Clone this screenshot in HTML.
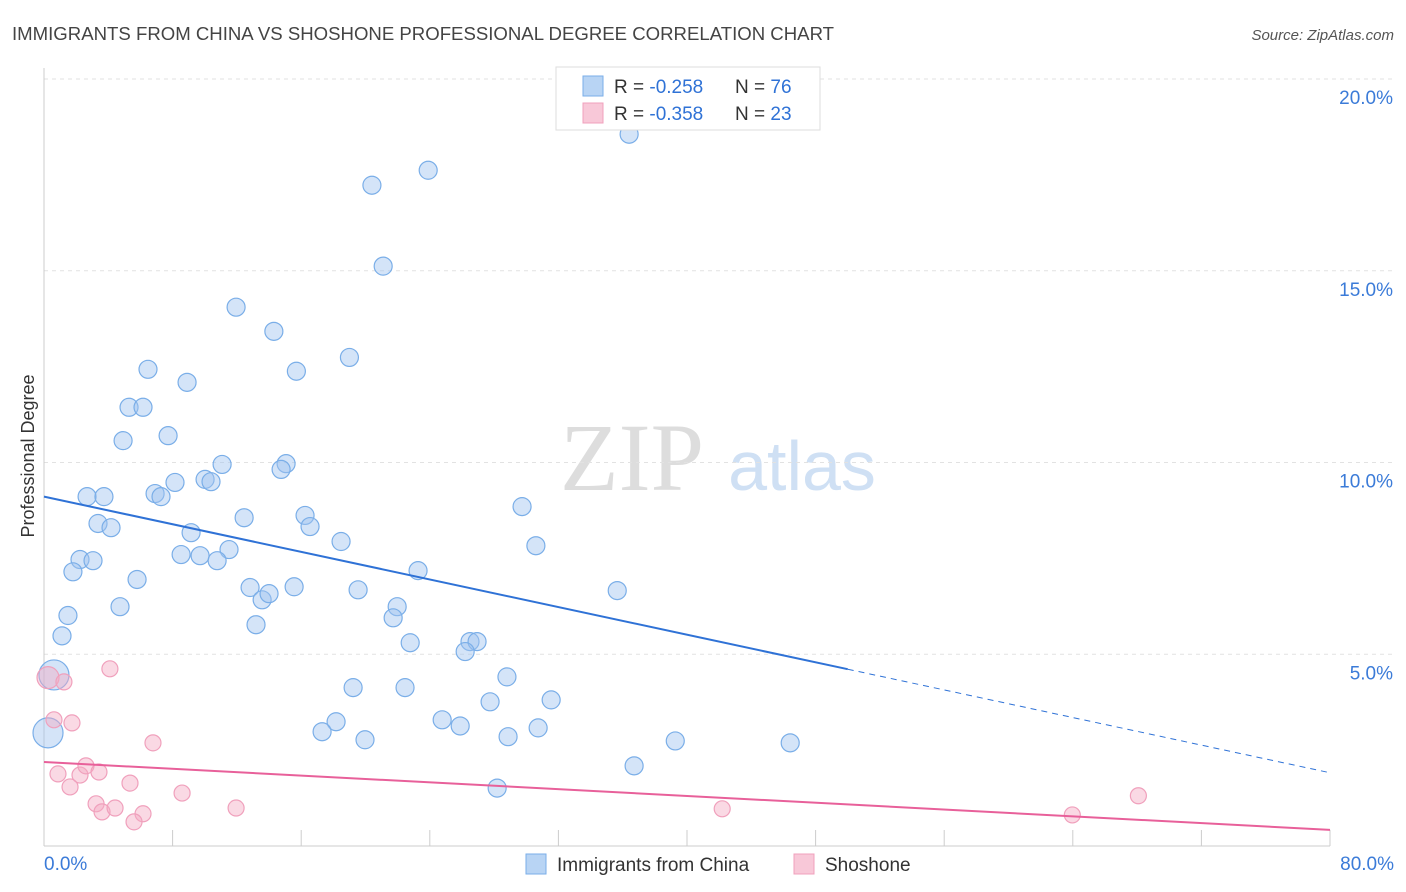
<!DOCTYPE html>
<html><head><meta charset="utf-8">
<style>
body{margin:0;background:#fff;font-family:"Liberation Sans",sans-serif;}
#wrap{position:relative;width:1406px;height:892px;overflow:hidden;}
</style></head>
<body>
<div id="wrap">
<svg id="svg" width="1406" height="892" xmlns="http://www.w3.org/2000/svg">
  <text x="12" y="40" font-size="18.6" fill="#444">IMMIGRANTS FROM CHINA VS SHOSHONE PROFESSIONAL DEGREE CORRELATION CHART</text>
  <text x="1394" y="40" font-size="15" fill="#555" text-anchor="end" font-style="italic">Source: ZipAtlas.com</text>
  <text x="34" y="456" font-size="18" fill="#333" text-anchor="middle" transform="rotate(-90 34 456)">Professional Degree</text>
  <g>
    <text x="632" y="490" font-size="96" fill="#ddd" text-anchor="middle" font-family="Liberation Serif, serif">ZIP</text>
    <text x="802" y="490" font-size="70" fill="#cfe0f4" text-anchor="middle">atlas</text>
  </g>
  <g id="grid"></g>
  <g id="axes"></g>
  <g id="pts"></g>
  <g id="lines"></g>
  <g>
    <rect x="556" y="67" width="264" height="63" fill="#fff" stroke="#ddd"/>
    <rect x="583" y="76" width="20" height="20" fill="#b8d4f4" stroke="#7aaee8"/>
    <text x="614" y="93" font-size="19" fill="#333">R = <tspan fill="#2f72d6">-0.258</tspan></text>
    <text x="735" y="93" font-size="19" fill="#333">N = <tspan fill="#2f72d6">76</tspan></text>
    <rect x="583" y="103" width="20" height="20" fill="#f8c8d8" stroke="#f0a0bc"/>
    <text x="614" y="120" font-size="19" fill="#333">R = <tspan fill="#2f72d6">-0.358</tspan></text>
    <text x="735" y="120" font-size="19" fill="#333">N = <tspan fill="#2f72d6">23</tspan></text>
  </g>
  <g>
    <rect x="526" y="854" width="20" height="20" fill="#b8d4f4" stroke="#7aaee8"/>
    <text x="557" y="871" font-size="19" fill="#333">Immigrants from China</text>
    <rect x="794" y="854" width="20" height="20" fill="#f8c8d8" stroke="#f0a0bc"/>
    <text x="825" y="871" font-size="19" fill="#333">Shoshone</text>
  </g>
</svg>
</div>
<script>
const yTicks=[5,10,15,20];
const yTickLabels=["5.0%","10.0%","15.0%","20.0%"];
const xTickVals=[0,8,16,24,32,40,48,56,64,72,80];
const chinaX=[36.4,23.9,20.4,21.1,11.95,14.3,19.0,6.47,15.7,8.9,5.29,6.16,4.92,7.72,11.08,15.06,14.75,10.02,10.39,8.15,6.91,7.28,2.68,3.73,29.74,12.45,16.24,16.55,3.36,4.17,9.15,18.48,30.6,11.51,8.53,9.71,10.77,2.24,3.05,1.8,23.27,5.79,12.82,15.56,19.54,35.66,13.57,14.0,21.97,4.73,21.72,1.49,13.19,1.12,26.5,26.94,22.78,26.2,0.62,28.8,19.23,22.46,31.55,27.75,24.77,25.89,18.17,17.3,30.74,19.97,28.87,39.27,46.42,0.25,36.71,28.19];
const chinaY=[18.56,17.62,17.23,15.12,14.05,13.42,12.74,12.43,12.38,12.09,11.44,11.44,10.57,10.7,9.95,9.97,9.82,9.56,9.5,9.48,9.19,9.11,9.11,9.11,8.85,8.56,8.62,8.33,8.41,8.3,8.17,7.94,7.83,7.73,7.6,7.57,7.44,7.47,7.44,7.15,7.18,6.95,6.74,6.76,6.68,6.66,6.42,6.58,6.24,6.24,5.95,6.01,5.77,5.48,5.33,5.33,5.3,5.07,4.46,4.41,4.13,4.13,3.81,3.76,3.29,3.13,3.24,2.98,3.08,2.77,2.85,2.74,2.69,2.95,2.09,1.51];
const chinaBig=[58,73];
const shoX=[0.25,1.24,4.1,0.62,1.74,6.78,0.87,2.24,2.61,3.42,1.62,5.35,8.59,3.24,3.61,4.42,6.16,5.6,11.95,42.19,68.08,63.97];
const shoY=[4.39,4.28,4.62,3.29,3.21,2.69,1.88,1.85,2.09,1.93,1.54,1.64,1.38,1.1,0.89,0.99,0.84,0.63,0.99,0.97,1.31,0.81];
const chinaTrend=[9.11,1.91], shoTrend=[2.19,0.42];
const X0=44,X1=1330,Y0=846,Y20=79;
const sx=v=>X0+(X1-X0)*v/80, sy=v=>Y0-(Y0-Y20)*v/20;
const NS="http://www.w3.org/2000/svg";
function mk(tag,attrs,parent){const e=document.createElementNS(NS,tag);for(const k in attrs)e.setAttribute(k,attrs[k]);document.getElementById(parent).appendChild(e);return e;}
yTicks.forEach((t,i)=>{
  const l=mk('line',{x1:X0,x2:1394,y1:sy(t),y2:sy(t),stroke:'#e2e2e2','stroke-dasharray':'4,4'},'grid');
  
  
  const tx=mk('text',{x:1393,y:sy(t)+25,'font-size':19,fill:'#3b7bd8','text-anchor':'end'},'axes');
  tx.textContent=yTickLabels[i];
  
  
});
mk('line',{x1:X0,x2:X0,y1:68,y2:Y0,stroke:'#ccc'},'axes');
mk('line',{x1:X0,x2:X1,y1:Y0,y2:Y0,stroke:'#ccc'},'axes');
xTickVals.forEach(t=>{
  const l=mk('line',{x1:sx(t),x2:sx(t),y1:830,y2:Y0,stroke:'#ccc'},'axes');
  
  
});
const xl0=mk('text',{x:44,y:870,'font-size':19,fill:'#3b7bd8'},'axes');xl0.textContent='0.0%';


const xl1=mk('text',{x:1394,y:870,'font-size':19,fill:'#3b7bd8','text-anchor':'end'},'axes');xl1.textContent='80.0%';


chinaX.forEach((v,i)=>{
  const big=chinaBig.includes(i);
  const c=mk('circle',{cx:sx(v),cy:sy(chinaY[i]),r:big?15:9,fill:'rgba(160,196,240,0.45)',stroke:'#7aaee8','stroke-width':1.2},'pts');
  
  
});
shoX.forEach((v,i)=>{
  const c=mk('circle',{cx:sx(v),cy:sy(shoY[i]),r:i==0?11:8,fill:'rgba(244,170,195,0.45)',stroke:'#f0a0bc','stroke-width':1.2},'pts');
  
  
});
const cy=x=>chinaTrend[0]+(chinaTrend[1]-chinaTrend[0])*x/80;
const l1=mk('line',{x1:sx(0),y1:sy(cy(0)),x2:sx(50),y2:sy(cy(50)),stroke:'#2f72d6','stroke-width':2},'lines');


const l2=mk('line',{x1:sx(50),y1:sy(cy(50)),x2:sx(80),y2:sy(cy(80)),stroke:'#2f72d6','stroke-width':1,'stroke-dasharray':'6,5'},'lines');


const l3=mk('line',{x1:sx(0),y1:sy(shoTrend[0]),x2:sx(80),y2:sy(shoTrend[1]),stroke:'#e8609a','stroke-width':2},'lines');


</script>
</body></html>
